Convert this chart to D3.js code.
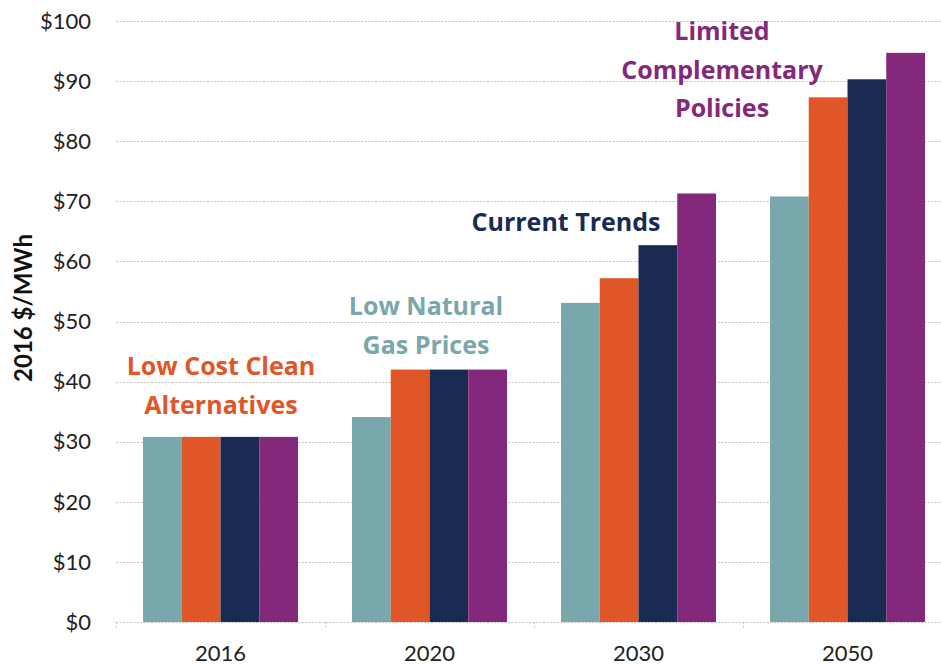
<!DOCTYPE html>
<html>
<head>
<meta charset="utf-8">
<script src="https://cdn.jsdelivr.net/npm/d3@7"></script>
<style>
  body { margin: 0; background: #fff; }
  svg { font-family: Lato, "Open Sans", sans-serif; }
</style>
</head>
<body>
<div id="chart"></div>
<script>
const years = ['2016', '2020', '2030', '2050'];
const scenarios = ['Low Natural Gas Prices', 'Low Cost Clean Alternatives', 'Current Trends', 'Limited Complementary Policies'];
const lowGas = [30.8, 34.1, 53.1, 70.8];
const lowCostClean = [30.8, 42.0, 57.2, 87.3];
const currentTrends = [30.8, 42.0, 62.7, 90.3];
const limitedPolicies = [30.8, 42.0, 71.3, 94.7];
const yTicks = [0, 10, 20, 30, 40, 50, 60, 70, 80, 90, 100];
const colors = ['#78a8ab', '#e05627', '#1a2b53', '#83287a'];

const seriesValues = [lowGas, lowCostClean, currentTrends, limitedPolicies];

const width = 941;
const height = 665;
const margin = { top: 21, right: -11, bottom: 43, left: 116 };

const svg = d3.select('#chart')
    .append('svg')
        .attr('width', width)
        .attr('height', height);

const x = d3.scaleBand()
    .domain(years)
    .range([margin.left, width - margin.right]);

const xInner = d3.scaleBand()
    .domain(scenarios)
    .range([27, x.bandwidth() - 27]);

const y = d3.scaleLinear()
    .domain([0, 100])
    .range([height - margin.bottom, margin.top]);

// dotted grid lines
svg.append('g')
    .selectAll('line')
    .data(yTicks)
    .enter()
    .append('line')
        .attr('x1', margin.left)
        .attr('x2', width)
        .attr('y1', d => Math.round(y(d)) + 0.5)
        .attr('y2', d => Math.round(y(d)) + 0.5)
        .attr('stroke', '#c4c4c4')
        .attr('stroke-dasharray', '2,1.5');

// y labels
svg.append('g')
    .selectAll('text')
    .data(yTicks)
    .enter()
    .append('text')
        .attr('x', 91)
        .attr('y', d => y(d))
        .attr('dy', '0.35em')
        .attr('text-anchor', 'end')
        .attr('font-size', 22)
        .attr('fill', '#222')
        .text(d => `$${d}`);

// bars
const groups = svg.append('g')
    .selectAll('g')
    .data(years)
    .enter()
    .append('g')
        .attr('transform', d => `translate(${x(d)},0)`);

groups.selectAll('rect')
    .data((yr, i) => scenarios.map((s, j) => ({ s, j, v: seriesValues[j][i] })))
    .enter()
    .append('rect')
        .attr('x', d => xInner(d.s))
        .attr('y', d => y(d.v))
        .attr('width', xInner.bandwidth())
        .attr('height', d => y(0) - y(d.v))
        .attr('fill', d => colors[d.j]);

// x axis tick marks (dotted)
svg.append('g')
    .selectAll('line')
    .data(years.map(d => x(d)).concat([x(years[years.length - 1]) + x.bandwidth()]))
    .enter()
    .append('line')
        .attr('x1', d => Math.round(d) + 0.5)
        .attr('x2', d => Math.round(d) + 0.5)
        .attr('y1', y(0))
        .attr('y2', y(0) + 6)
        .attr('stroke', '#c4c4c4')
        .attr('stroke-dasharray', '2,1.5');

// x labels
svg.append('g')
    .selectAll('text')
    .data(years)
    .enter()
    .append('text')
        .attr('x', d => x(d) + x.bandwidth() / 2)
        .attr('y', 661)
        .attr('text-anchor', 'middle')
        .attr('font-size', 22)
        .attr('fill', '#222')
        .text(d => d);

// y title
svg.append('text')
    .attr('transform', 'translate(32,308) rotate(-90)')
    .attr('text-anchor', 'middle')
    .attr('font-size', 24)
    .attr('font-weight', 'bold')
    .attr('fill', '#111')
    .text('2016 $/MWh');

// scenario annotations
const notes = [
    { lines: ['Low Cost Clean', 'Alternatives'], color: colors[1], cx: 221, y0: 375 },
    { lines: ['Low Natural', 'Gas Prices'], color: colors[0], cx: 426, y0: 315 },
    { lines: ['Current Trends'], color: colors[2], cx: 566, y0: 231 },
    { lines: ['Limited', 'Complementary', 'Policies'], color: colors[3], cx: 722, y0: 40 }
];

notes.forEach(n => {
    const t = svg.append('text')
        .attr('text-anchor', 'middle')
        .attr('font-family', '"Open Sans", Lato, sans-serif')
        .attr('font-size', 25)
        .attr('font-weight', 'bold')
        .attr('fill', n.color);
    n.lines.forEach((l, i) => {
        t.append('tspan')
            .attr('x', n.cx)
            .attr('y', n.y0 + i * 38.5)
            .text(l);
    });
});
</script>
</body>
</html>
